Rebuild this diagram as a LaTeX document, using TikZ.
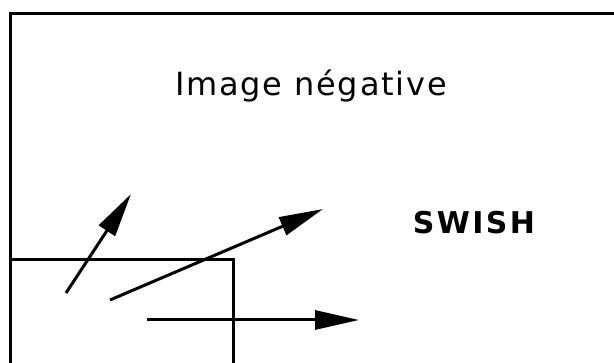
\documentclass[tikz,border=0pt]{standalone}
\usepackage{fontspec}
\newfontfamily\negfont[LetterSpace=5.5]{DejaVu Sans}
\newfontfamily\swishfont[LetterSpace=8]{DejaVu Sans Bold}
\usetikzlibrary{arrows.meta, positioning}

\begin{document}
\begin{tikzpicture}[
  x=1pt, y=-1pt,
  frm/.style={line width=3pt},
  arr/.style={-{Triangle[length=44pt, width=19pt]}, line width=3pt},
  lbl/.style={font=\negfont\fontsize{32}{32}\selectfont, anchor=base, inner sep=0pt},
  bold/.style={font=\swishfont\fontsize{30}{30}\selectfont, anchor=base, inner sep=0pt},
]
\useasboundingbox (0,0) rectangle (614,363);
\clip (0,0) rectangle (614,363);

% Frames
\draw[frm] (10.5,370) -- (10.5,13.5) -- (620,13.5);
\draw[frm] (10.5,260) -- (233,260) -- (233,370);

% Labels
\node[lbl]  (title) at (311,96)  {Image négative};
\node[bold] (swish) at (474,234) {SWISH};

% Arrow ends
\coordinate (a1) at (66,293);
\coordinate (b1) at (131,194);
\coordinate (a2) at (110,300);
\coordinate (b2) at (323,209);
\coordinate (a3) at (147,320);
\coordinate (b3) at (359,320);

% Arrows
\draw[arr] (a1) -- (b1);
\draw[arr] (a2) -- (b2);
\draw[arr] (a3) -- (b3);
\end{tikzpicture}
\end{document}
